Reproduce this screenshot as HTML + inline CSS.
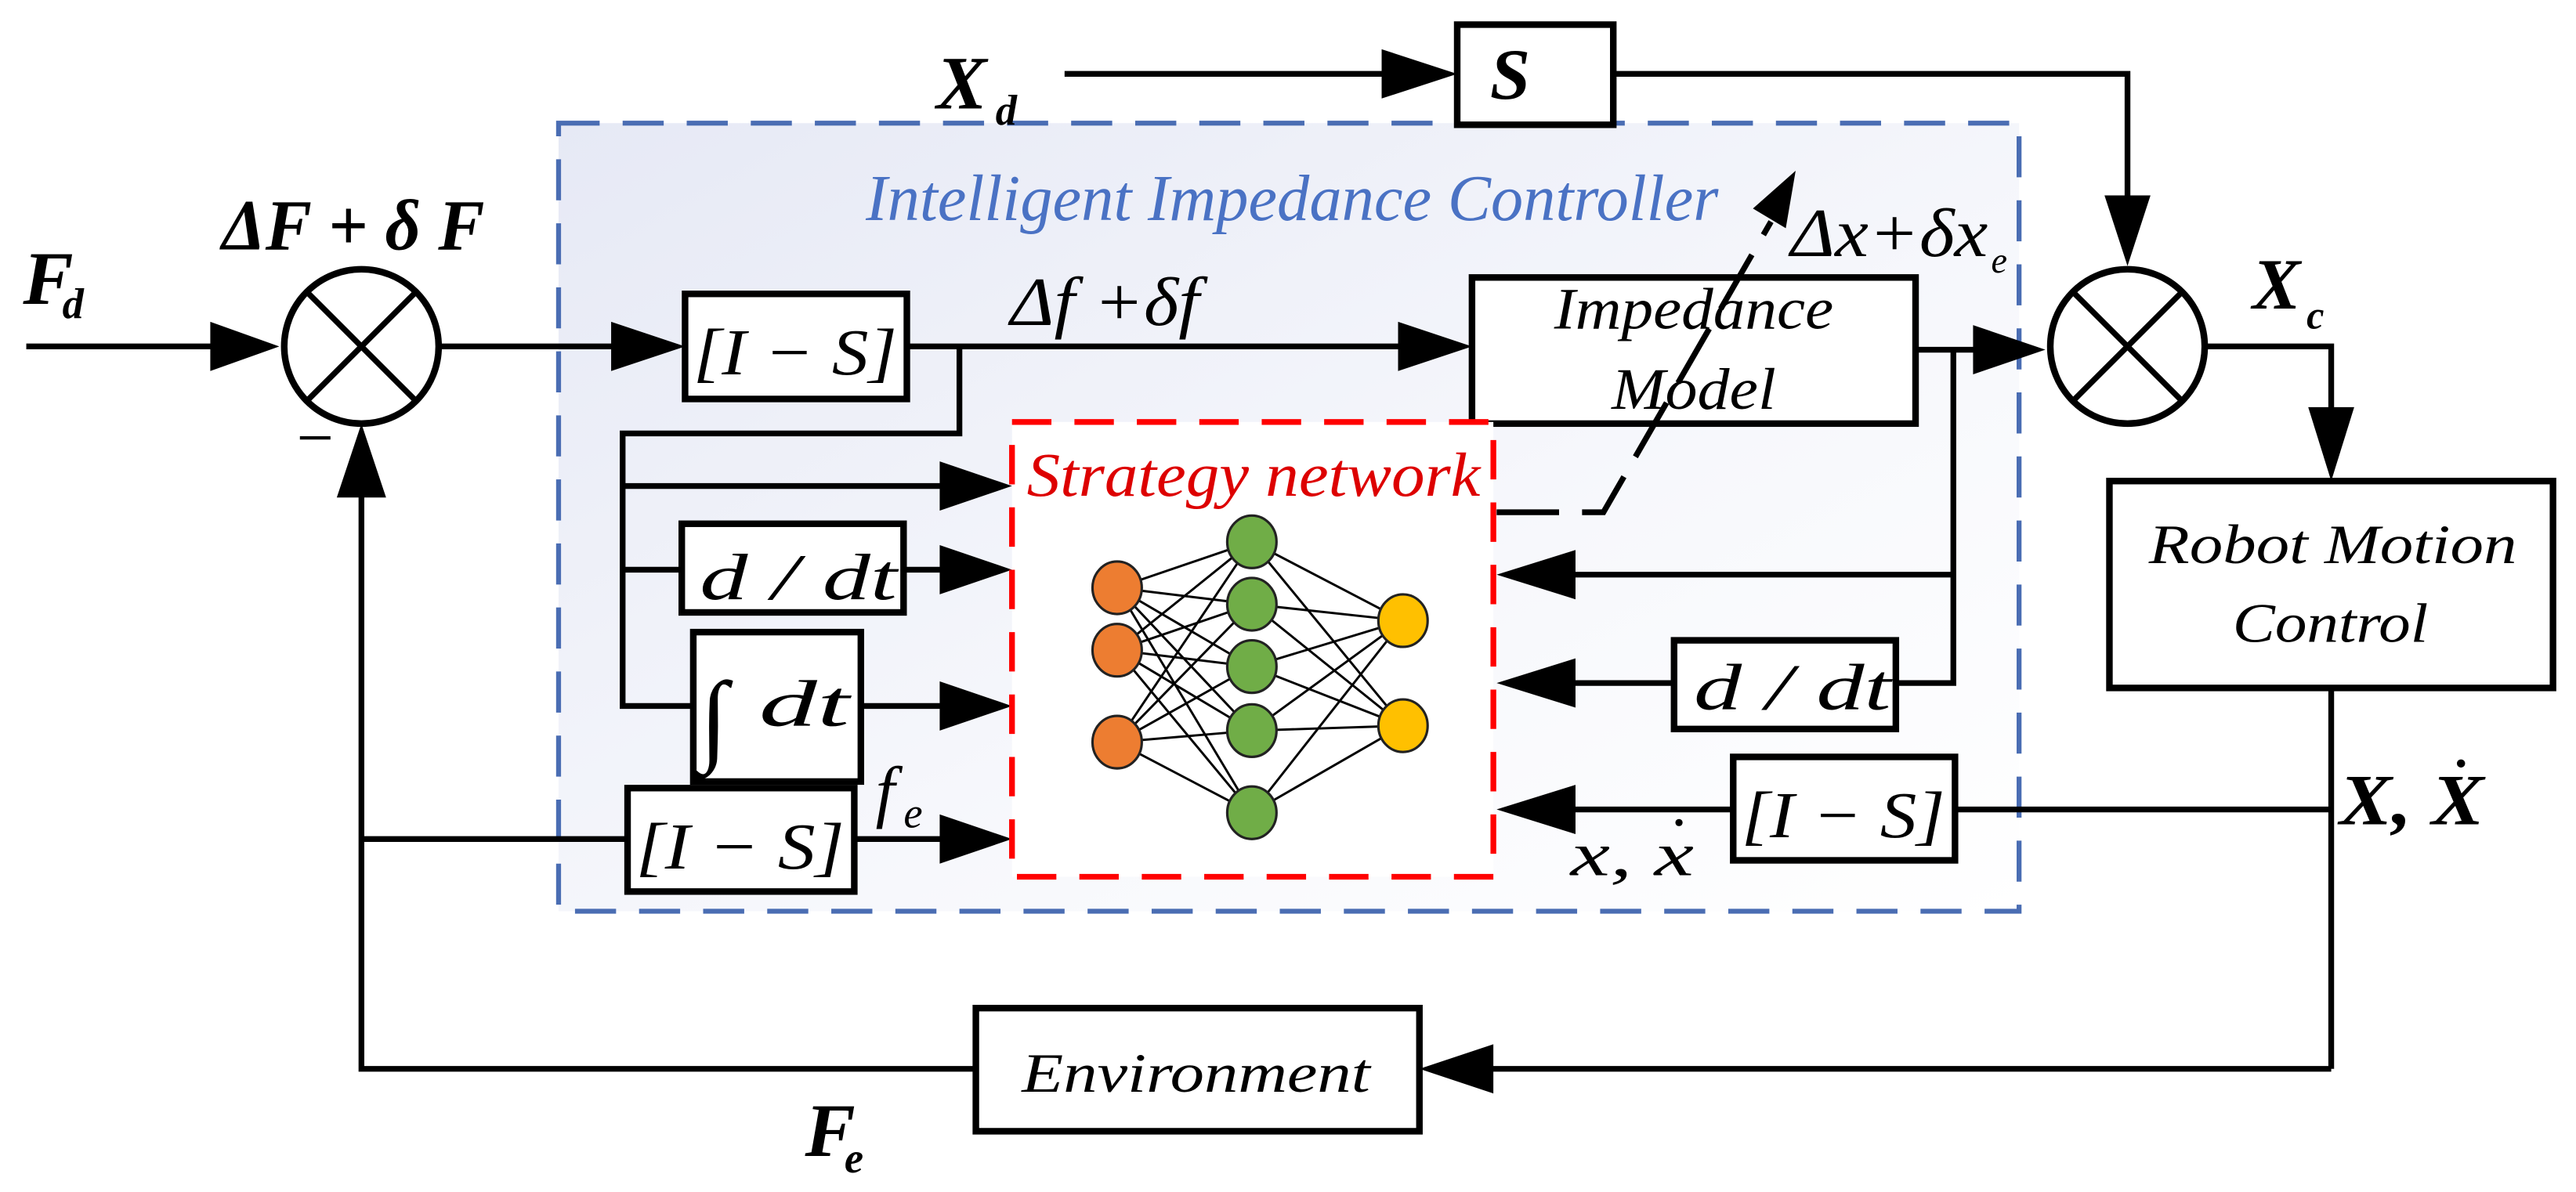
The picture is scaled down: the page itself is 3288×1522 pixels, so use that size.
<!DOCTYPE html>
<html><head><meta charset="utf-8"><style>
html,body{margin:0;padding:0;background:#fff}
svg{display:block}
text{font-family:"Liberation Serif",serif;font-style:italic}
</style></head><body>
<svg width="3288" height="1522" viewBox="0 0 1568 726" preserveAspectRatio="none" xmlns="http://www.w3.org/2000/svg">
<defs>
<linearGradient id="g" x1="0" y1="0" x2="1" y2="1">
<stop offset="0" stop-color="#e6e9f5"/><stop offset="0.6" stop-color="#f7f8fc"/><stop offset="1" stop-color="#ffffff"/>
</linearGradient>
</defs>
<rect x="340" y="75" width="889" height="480" fill="url(#g)" stroke="#4a6db3" stroke-width="3" stroke-dasharray="25 14"/>
<text x="527" y="134" font-size="40" fill="#4a72c4" textLength="519" lengthAdjust="spacingAndGlyphs">Intelligent Impedance Controller</text>

<g stroke="#000" stroke-width="3.5" fill="none">
<line x1="16" y1="211" x2="130" y2="211"/>
<circle cx="220" cy="211" r="47" fill="#fff" stroke-width="4"/>
<line x1="187" y1="178" x2="253" y2="244"/><line x1="253" y1="178" x2="187" y2="244"/>
<line x1="268" y1="211" x2="375" y2="211"/>
<polyline points="220,300 220,651 594,651"/>
<line x1="220" y1="511" x2="382" y2="511"/>
<line x1="520" y1="511" x2="575" y2="511"/>
<line x1="905" y1="651" x2="1419" y2="651"/>
<polyline points="1419,419 1419,651"/>
<line x1="1419" y1="493" x2="1190" y2="493"/>
<line x1="1055" y1="493" x2="955" y2="493"/>
<line x1="552" y1="211" x2="855" y2="211"/>
<polyline points="584,211 584,264 379,264 379,430 422,430"/>
<line x1="379" y1="296" x2="575" y2="296"/>
<line x1="379" y1="347" x2="415" y2="347"/>
<line x1="550" y1="347" x2="575" y2="347"/>
<line x1="524" y1="430" x2="575" y2="430"/>
<line x1="1166" y1="213" x2="1205" y2="213"/>
<polyline points="1189,213 1189,416 1154,416"/>
<line x1="1189" y1="350" x2="955" y2="350"/>
<line x1="1019" y1="416" x2="955" y2="416"/>
<line x1="648" y1="45" x2="845" y2="45"/>
<polyline points="982,45 1295,45 1295,122"/>
<polyline points="1341,211 1419,211 1419,252"/>
<circle cx="1295" cy="211" r="47" fill="#fff" stroke-width="4"/>
<line x1="1262" y1="178" x2="1328" y2="244"/><line x1="1328" y1="178" x2="1262" y2="244"/>
</g>

<g fill="#000">
<polygon points="170,211 128,196 128,226"/>
<polygon points="220,258 205,303 235,303"/>
<polygon points="417,211 372,196 372,226"/>
<polygon points="896,211 851,196 851,226"/>
<polygon points="887,45 841,30 841,60"/>
<polygon points="1295,162 1281,119 1309,119"/>
<polygon points="1245,213 1201,198 1201,228"/>
<polygon points="1419,293 1405,248 1433,248"/>
<polygon points="864,651 909,636 909,666"/>
<polygon points="616,296 572,281 572,311"/>
<polygon points="616,347 572,332 572,362"/>
<polygon points="616,430 572,415 572,445"/>
<polygon points="616,511 572,496 572,526"/>
<polygon points="911,350 959,335 959,365"/>
<polygon points="911,416 959,401 959,431"/>
<polygon points="911,493 959,478 959,508"/>
</g>

<g fill="#fff" stroke="#000" stroke-width="4">
<rect x="887" y="15" width="95" height="61"/>
<rect x="417" y="179" width="135" height="64"/>
<rect x="896" y="169" width="270" height="89"/>
<rect x="1284" y="293" width="270" height="126"/>
<rect x="415" y="319" width="135" height="54"/>
<rect x="422" y="385" width="102" height="91"/>
<rect x="382" y="480" width="138" height="63"/>
<rect x="1019" y="390" width="135" height="54"/>
<rect x="1055" y="461" width="135" height="63"/>
<rect x="594" y="614" width="270" height="75"/>
</g>

<rect x="616" y="257" width="293" height="277" fill="#fff" stroke="#f00" stroke-width="3.5" stroke-dasharray="24 14"/>
<text x="625" y="302" font-size="38" fill="#d00" textLength="276" lengthAdjust="spacingAndGlyphs">Strategy network</text>

<polyline points="911,312 976,312 1078,135" fill="none" stroke="#000" stroke-width="3.5" stroke-dasharray="38 14"/>
<polygon points="1093,104 1067,127 1087,139" fill="#000"/>

<g stroke="#000" stroke-width="1.4">
<line x1="680" y1="358" x2="762" y2="330"/><line x1="680" y1="358" x2="762" y2="368"/><line x1="680" y1="358" x2="762" y2="406"/><line x1="680" y1="358" x2="762" y2="445"/><line x1="680" y1="358" x2="762" y2="495"/>
<line x1="680" y1="396" x2="762" y2="330"/><line x1="680" y1="396" x2="762" y2="368"/><line x1="680" y1="396" x2="762" y2="406"/><line x1="680" y1="396" x2="762" y2="445"/><line x1="680" y1="396" x2="762" y2="495"/>
<line x1="680" y1="452" x2="762" y2="330"/><line x1="680" y1="452" x2="762" y2="368"/><line x1="680" y1="452" x2="762" y2="406"/><line x1="680" y1="452" x2="762" y2="445"/><line x1="680" y1="452" x2="762" y2="495"/>
<line x1="762" y1="330" x2="854" y2="378"/><line x1="762" y1="368" x2="854" y2="378"/><line x1="762" y1="406" x2="854" y2="378"/><line x1="762" y1="445" x2="854" y2="378"/><line x1="762" y1="495" x2="854" y2="378"/>
<line x1="762" y1="330" x2="854" y2="442"/><line x1="762" y1="368" x2="854" y2="442"/><line x1="762" y1="406" x2="854" y2="442"/><line x1="762" y1="445" x2="854" y2="442"/><line x1="762" y1="495" x2="854" y2="442"/>
</g>
<g stroke="#222" stroke-width="1.5">
<ellipse cx="680" cy="358" rx="15" ry="16" fill="#ed7d31"/>
<ellipse cx="680" cy="396" rx="15" ry="16" fill="#ed7d31"/>
<ellipse cx="680" cy="452" rx="15" ry="16" fill="#ed7d31"/>
<ellipse cx="762" cy="330" rx="15" ry="16" fill="#70ad47"/>
<ellipse cx="762" cy="368" rx="15" ry="16" fill="#70ad47"/>
<ellipse cx="762" cy="406" rx="15" ry="16" fill="#70ad47"/>
<ellipse cx="762" cy="445" rx="15" ry="16" fill="#70ad47"/>
<ellipse cx="762" cy="495" rx="15" ry="16" fill="#70ad47"/>
<ellipse cx="854" cy="378" rx="15" ry="16" fill="#ffc000"/>
<ellipse cx="854" cy="442" rx="15" ry="16" fill="#ffc000"/>
</g>

<g fill="#000">
<text x="14" y="185" font-size="46" font-weight="bold">F</text><text x="38" y="194" font-size="26" font-weight="bold">d</text>
<text x="135" y="152" font-size="44" font-weight="bold" textLength="160" lengthAdjust="spacingAndGlyphs">ΔF + δ F</text>
<text x="178" y="280" font-size="40" font-style="normal">−</text>
<text x="570" y="66" font-size="46" font-weight="bold">X</text><text x="606" y="76" font-size="26" font-weight="bold">d</text>
<text x="907" y="60" font-size="44" font-weight="bold">S</text>
<text x="422" y="228" font-size="40" textLength="124" lengthAdjust="spacingAndGlyphs">[I − S]</text>
<text x="387" y="529" font-size="40" textLength="127" lengthAdjust="spacingAndGlyphs">[I − S]</text>
<text x="1060" y="510" font-size="40" textLength="124" lengthAdjust="spacingAndGlyphs">[I − S]</text>
<text x="615" y="198" font-size="42" textLength="115" lengthAdjust="spacingAndGlyphs">Δf +δf</text>
<text x="1090" y="156" font-size="42" textLength="120" lengthAdjust="spacingAndGlyphs">Δx+δx</text><text x="1212" y="166" font-size="22">e</text>
<text x="1371" y="188" font-size="44" font-weight="bold">X</text><text x="1404" y="200" font-size="24" font-weight="bold">c</text>
<text x="946" y="200" font-size="36" textLength="170" lengthAdjust="spacingAndGlyphs">Impedance</text>
<text x="981" y="249" font-size="36" textLength="100" lengthAdjust="spacingAndGlyphs">Model</text>
<text x="1308" y="343" font-size="34" textLength="224" lengthAdjust="spacingAndGlyphs">Robot Motion</text>
<text x="1359" y="391" font-size="34" textLength="119" lengthAdjust="spacingAndGlyphs">Control</text>
<text x="622" y="665" font-size="34" textLength="212" lengthAdjust="spacingAndGlyphs">Environment</text>
<text x="426" y="365" font-size="40" textLength="120" lengthAdjust="spacingAndGlyphs">d / dt</text>
<text x="1031" y="432" font-size="40" textLength="120" lengthAdjust="spacingAndGlyphs">d / dt</text>
<text x="426" y="458" font-size="62" font-style="normal">∫</text>
<text x="462" y="442" font-size="40" textLength="55" lengthAdjust="spacingAndGlyphs">dt</text>
<text x="533" y="496" font-size="42">f</text><text x="550" y="504" font-size="26">e</text>
<text x="956" y="533" font-size="38" textLength="75" lengthAdjust="spacingAndGlyphs">x, x</text>
<circle cx="1022" cy="501" r="2.2"/>
<text x="1424" y="502" font-size="44" font-weight="bold" textLength="88" lengthAdjust="spacingAndGlyphs">X, X</text>
<circle cx="1498" cy="465" r="2.5"/>
<text x="490" y="704" font-size="46" font-weight="bold">F</text><text x="514" y="714" font-size="26" font-weight="bold">e</text>
</g>
</svg>
</body></html>
